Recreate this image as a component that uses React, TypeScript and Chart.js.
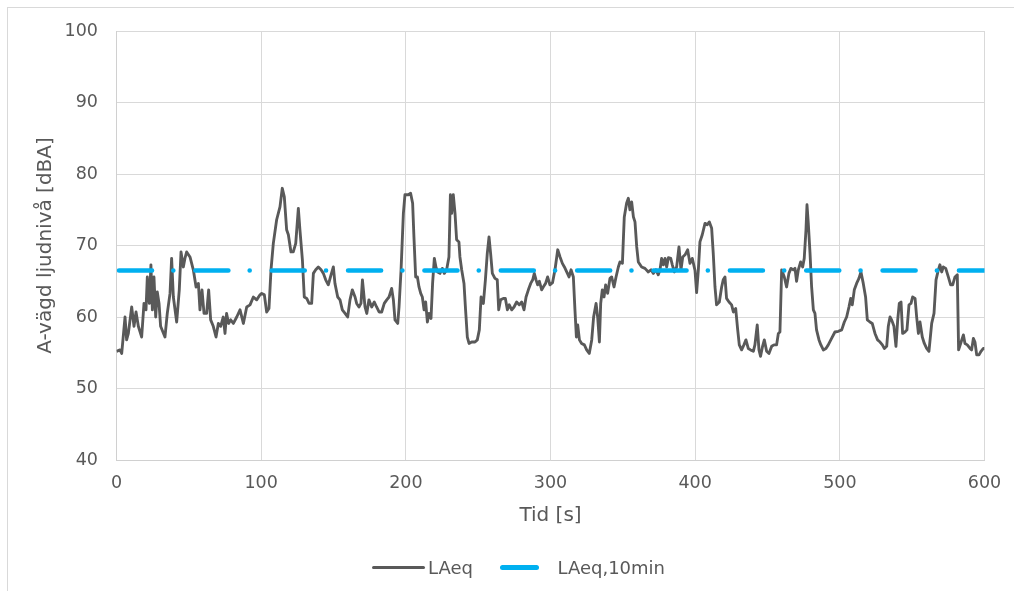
import React, { useEffect, useRef } from "react";
import { Chart, registerables } from "chart.js";

Chart.register(...registerables);

// ---- data: [time (s), LAeq (dBA)] ----
const laeq0to100: [number, number][] = [
  [0, 55.2], [2.4, 55.4], [3.6, 54.9], [5.9, 60.0], [7, 56.8], [8.2, 57.7], [10.5, 61.4], [12.1, 58.7],
  [13.5, 60.7], [15.1, 58.7], [17.4, 57.2], [19, 61.9], [20.4, 61.0], [21.3, 65.6], [22.7, 61.9], [23.8, 67.3],
  [24.8, 61.0], [25.9, 65.6], [27.1, 60.0], [28.2, 63.5], [29.4, 61.9], [30.5, 58.7], [33.5, 57.2], [35.1, 60.5],
  [37, 63.3], [38.1, 68.2], [39.3, 62.8], [41.6, 59.3], [43.4, 63.8], [44.6, 69.1], [46.2, 67.0], [47.3, 68.2],
  [48.5, 69.1], [50.8, 68.4], [53.1, 66.6], [55, 64.2], [56.6, 64.7], [57.7, 61.0], [59.1, 63.8], [60.5, 60.5],
  [62.3, 60.5], [63.7, 63.8], [65.1, 59.6], [66.9, 58.7], [68.8, 57.2], [70.4, 59.1], [72, 58.7], [73.8, 60.0],
  [75, 57.7], [76.1, 60.5], [77.5, 59.1], [78.9, 59.6], [80.8, 59.1], [83.1, 60.0], [85.4, 61.0], [87.7, 59.1],
  [90, 61.4], [92.3, 61.7], [94.6, 62.8], [96.9, 62.4], [99.2, 63.1],
];
const laeq100to200: [number, number][] = [
  [100.4, 63.3], [102.2, 63.1], [103.8, 60.7], [105.4, 61.2], [106.8, 66.6], [108.4, 70.3], [110.7, 73.6],
  [113, 75.4], [114.6, 78.0], [116, 76.8], [117.6, 72.2], [118.8, 71.5], [120.6, 69.1], [122.2, 69.1],
  [123.9, 70.3], [125.7, 75.2], [126.8, 72.2], [128.5, 68.0], [129.8, 62.8], [131.5, 62.6], [133.1, 61.9],
  [134.9, 61.9], [136.1, 66.1], [137.7, 66.6], [139.5, 67.0], [141.4, 66.6], [143, 66.1], [144.6, 65.2],
  [146.4, 64.5], [148.3, 65.9], [149.9, 67.0], [151, 64.7], [152.9, 62.8], [154.5, 62.4], [156.1, 61.0],
  [158, 60.5], [159.8, 60.0], [161.4, 62.4], [163, 63.8], [164.9, 62.8], [166, 61.9], [167.6, 61.4],
  [169, 61.9], [170, 65.2], [171.8, 61.4], [173, 60.5], [174.5, 62.4], [176.4, 61.4], [178.2, 62.1],
  [179.8, 61.4], [181.5, 60.7], [183.3, 60.7], [185.1, 61.9], [186.8, 62.4], [188.4, 62.8], [190.2, 64.0],
  [191.4, 62.4], [192.5, 59.6], [194.4, 59.1], [195.3, 61.4], [196.7, 66.6], [198.3, 74.5], [199.4, 77.1],
];
const laeq200to300: [number, number][] = [
  [201.7, 77.1], [203.3, 77.3], [204.7, 75.9], [205.6, 71.2], [206.8, 65.6], [208, 65.6], [209.1, 64.2],
  [210.3, 63.3], [211.4, 62.8], [212.6, 61.0], [213.7, 62.1], [214.9, 59.3], [216, 60.5], [217.4, 59.8],
  [218.5, 64.7], [219.7, 68.2], [220.8, 67.0], [222, 66.3], [223.6, 66.1], [225.2, 66.8], [226.6, 66.1],
  [228.2, 66.6], [229.8, 68.4], [230.8, 77.1], [231.7, 74.5], [232.8, 77.1], [234, 74.5], [235.1, 70.8],
  [236.7, 70.5], [237.4, 68.4], [238.6, 66.6], [240.2, 64.7], [241.3, 61.0], [242.5, 57.2], [243.7, 56.3],
  [245.5, 56.5], [247.8, 56.5], [249.4, 56.8], [250.8, 58.2], [252, 62.8], [253.6, 61.9], [255, 65.2],
  [256.3, 68.9], [257.5, 71.2], [258.6, 68.9], [259.8, 66.1], [261.6, 65.4], [263.2, 65.2], [264.2, 61.0],
  [265.5, 62.4], [267.4, 62.6], [268.8, 62.6], [270.2, 61.0], [271.5, 61.7], [273.2, 61.0], [274.8, 61.4],
  [276.6, 62.1], [278.4, 61.7], [280.1, 62.1], [281.7, 61.0], [283.1, 62.8], [284.7, 63.8], [286.3, 64.7],
  [287.7, 65.2], [288.8, 66.1], [290, 65.2], [291.1, 64.5], [292.3, 65.0], [293.9, 63.8], [295, 64.2],
  [296.6, 64.7], [298, 65.6], [299.6, 64.5],
];
const laeq300to400: [number, number][] = [
  [301.4, 64.8], [303.1, 66.6], [305, 69.4], [306.6, 68.4], [308.2, 67.5], [309.6, 67.0], [311.2, 66.3],
  [312.8, 65.6], [314.2, 66.6], [315.8, 65.6], [316.9, 61.0], [317.9, 57.2], [318.8, 58.9], [320, 56.8],
  [321.5, 56.3], [323.4, 56.1], [325, 55.4], [326.8, 54.9], [328.5, 56.8], [329.8, 60.0], [331.5, 61.9],
  [332.6, 60.0], [333.8, 56.5], [334.7, 61.9], [335.8, 63.8], [337, 62.8], [338.1, 64.5], [339.5, 63.3],
  [341.1, 65.4], [342.3, 65.6], [343.9, 64.2], [345.3, 65.6], [346.9, 67.0], [348, 67.7], [349.7, 67.5],
  [351, 74.0], [352.6, 75.9], [353.8, 76.6], [354.9, 75.0], [356.1, 76.1], [357.3, 74.0], [358.4, 73.3],
  [359.6, 69.8], [360.7, 67.7], [363, 67.0], [365.3, 66.8], [367.6, 66.3], [369.5, 66.6], [371.1, 66.1],
  [372.9, 66.6], [374.5, 65.9], [375.7, 66.6], [376.8, 68.2], [378, 67.3], [379.2, 68.2], [380.3, 67.0],
  [381.5, 68.3], [383.1, 68.2], [384.2, 67.3], [385.6, 66.3], [387.2, 67.0], [388.8, 69.8], [390.2, 66.6],
  [391.4, 68.4], [393, 68.7], [394.8, 69.4], [396.4, 67.5], [398, 68.2],
];
const laeq400to500: [number, number][] = [
  [399.9, 66.5], [401, 63.4], [402.2, 66.6], [403.3, 70.5], [404.9, 71.5], [406.8, 73.1], [408.4, 72.9],
  [409.8, 73.3], [411.4, 72.4], [412.5, 68.9], [413.7, 64.2], [414.8, 61.7], [416.7, 62.1], [418.3, 64.2],
  [419.4, 65.2], [420.6, 65.6], [421.7, 62.6], [423.4, 62.1], [425.2, 61.7], [426.4, 60.7], [428, 61.2],
  [429.4, 58.2], [430.5, 56.1], [432.1, 55.4], [433.7, 56.1], [435.1, 56.8], [436.7, 55.6], [438.3, 55.4],
  [440.2, 55.2], [441.3, 56.1], [442.9, 58.9], [444.1, 55.4], [445.2, 54.5], [446.6, 55.9], [447.8, 56.8],
  [449.4, 55.2], [451, 54.9], [452.9, 55.9], [454.5, 56.1], [456.3, 56.1], [457.5, 57.7], [458.6, 57.9],
  [459.8, 66.6], [461.6, 65.6], [463.2, 64.2], [464.8, 66.1], [466.2, 66.8], [467.8, 66.6], [469, 66.8],
  [470.1, 65.0], [471.3, 66.6], [472.9, 67.7], [474.3, 67.0], [475.4, 68.2], [476.6, 72.2], [477.3, 75.7],
  [478.2, 73.1], [479.4, 68.9], [480.5, 64.2], [481.7, 61.0], [482.8, 60.5], [483.9, 58.2], [485.6, 56.8],
  [486.9, 56.1], [488.6, 55.4], [490.4, 55.6], [492, 56.1], [494.3, 57.0], [496.6, 57.9],
];
const laeq500to600: [number, number][] = [
  [499, 58.0], [501.3, 58.2], [503.1, 59.3], [504.7, 60.0], [506.3, 61.4], [507.5, 62.6], [508.6, 61.7],
  [510, 63.8], [511.6, 64.7], [513.2, 65.4], [514.6, 66.3], [516.2, 64.7], [517.8, 62.8], [519, 59.6],
  [520.8, 59.3], [522.4, 59.1], [524.3, 57.7], [526.1, 56.8], [527.8, 56.5], [529.4, 56.1], [530.8, 55.6],
  [532.4, 55.9], [533.5, 58.7], [534.7, 60.0], [535.8, 59.6], [537.4, 58.7], [538.8, 55.9], [540, 59.6],
  [541.1, 61.9], [542.3, 62.1], [543.4, 57.7], [545, 57.9], [546.4, 58.2], [547.8, 61.7], [549.2, 61.9],
  [550.3, 62.8], [552, 62.6], [553.1, 60.0], [554.3, 57.7], [555.4, 59.3], [557, 57.2], [558.4, 56.3],
  [560, 55.6], [561.6, 55.2], [563.5, 59.1], [565.1, 60.5], [566.5, 65.2], [568.1, 66.6], [569.2, 67.3],
  [570.4, 66.3], [571.5, 67.0], [573.2, 66.8], [575, 65.6], [576.6, 64.5], [578, 64.5], [579.6, 65.6],
  [581.2, 65.9], [582.1, 55.4], [583.5, 56.3], [585.4, 57.5], [586.5, 56.3], [588.1, 56.1], [590, 55.6],
  [591.1, 55.4], [592.3, 57.0], [593.4, 56.5], [594.6, 54.7], [596.2, 54.7], [597.6, 55.2], [599.2, 55.6],
  [600, 55.6],
];

const laeq10minTimes = [0, 600];
const laeq10minDb = [66.5, 66.5];

const xTickValues = [0, 100, 200, 300, 400, 500, 600];
const yTickValues = [40, 50, 60, 70, 80, 90, 100];

const seriesNames = ["LAeq", "LAeq,10min"];
const axisTitles = { x: "Tid [s]", y: "A-vägd ljudnivå [dBA]" };

const FONT = "'DejaVu Sans', Verdana, sans-serif";
const TEXT = "#595959";
const GRID = "#d9d9d9";
const GREY_LINE = "#595959";
const BLUE = "#00B0F0";

const zeroPadding = (s: any) => {
  s.paddingLeft = 0;
  s.paddingRight = 0;
  s.paddingTop = 0;
  s.paddingBottom = 0;
};

export default function App() {
  const ref = useRef<HTMLCanvasElement>(null);

  useEffect(() => {
    const laeqPoints = [
      ...laeq0to100,
      ...laeq100to200,
      ...laeq200to300,
      ...laeq300to400,
      ...laeq400to500,
      ...laeq500to600,
    ].map(([x, y]) => ({ x, y }));
    const tenMinPoints = laeq10minTimes.map((x, i) => ({ x, y: laeq10minDb[i] }));

    const chart = new Chart(ref.current!, {
      type: "line",
      data: {
        datasets: [
          {
            label: seriesNames[0],
            data: laeqPoints,
            borderColor: GREY_LINE,
            borderWidth: 2.85,
            borderJoinStyle: "round",
            pointRadius: 0,
            tension: 0,
            order: 1,
          },
          {
            label: seriesNames[1],
            data: tenMinPoints,
            borderColor: BLUE,
            borderWidth: 4.6,
            borderCapStyle: "round",
            borderDash: [33, 21.3, 0.01, 22.05],
            borderDashOffset: 73.85,
            pointRadius: 0,
            order: 0,
          },
        ],
      },
      options: {
        animation: false,
        responsive: false,
        maintainAspectRatio: false,
        layout: { padding: { left: 0, right: 21.5, top: 22, bottom: 53 } },
        plugins: {
          legend: { display: false },
          tooltip: { enabled: false },
        },
        scales: {
          x: {
            type: "linear",
            min: 0,
            max: 600,
            afterFit: (s: any) => {
              s.height = 70;
              zeroPadding(s);
            },
            afterBuildTicks: (s: any) => {
              s.ticks = xTickValues.map((value) => ({ value }));
            },
            grid: { color: GRID, lineWidth: 1, drawTicks: false },
            border: { color: "#d0d0d0", width: 1 },
            ticks: { padding: 12.5, color: TEXT, font: { family: FONT, size: 17.5 }, maxRotation: 0 },
            title: {
              display: true,
              text: axisTitles.x,
              color: TEXT,
              font: { family: FONT, size: 20 },
              padding: { top: 0, bottom: 2 },
            },
          },
          y: {
            type: "linear",
            min: 40,
            max: 100,
            afterFit: (s: any) => {
              s.width = 107.5;
              zeroPadding(s);
            },
            afterBuildTicks: (s: any) => {
              s.ticks = yTickValues.map((value) => ({ value }));
            },
            grid: { color: GRID, lineWidth: 1, drawTicks: false },
            border: { color: "#d0d0d0", width: 1 },
            ticks: { padding: 18.5, color: TEXT, font: { family: FONT, size: 17.5 } },
            title: {
              display: true,
              text: axisTitles.y,
              color: TEXT,
              font: { family: FONT, size: 20 },
              padding: { top: 25, bottom: 0 },
            },
          },
        },
      },
    });
    return () => chart.destroy();
  }, []);

  const legendText: React.CSSProperties = {
    position: "absolute",
    font: `18px ${FONT}`,
    lineHeight: "22px",
    color: TEXT,
    whiteSpace: "nowrap",
  };

  return (
    <div style={{ position: "relative", width: 998, height: 575 }}>
      {/* outer chart frame: runs off the right and bottom edges like the reference */}
      <div
        style={{
          position: "fixed",
          left: 7,
          top: 7,
          width: 1007,
          height: 584,
          boxSizing: "border-box",
          borderTop: `1px solid ${GRID}`,
          borderLeft: `1px solid ${GRID}`,
          pointerEvents: "none",
        }}
      />
      <div style={{ position: "absolute", left: 1, top: 1, width: 997, height: 574 }}>
        <canvas ref={ref} width={997} height={574} style={{ display: "block", width: 997, height: 574 }} />
        <div
          style={{
            position: "absolute",
            left: 362.7,
            top: 557,
            width: 53.3,
            height: 3.3,
            background: GREY_LINE,
            borderRadius: 2,
          }}
        />
        <span style={{ ...legendText, left: 419, top: 548 }}>{seriesNames[0]}</span>
        <div
          style={{
            position: "absolute",
            left: 491,
            top: 556.4,
            width: 39.3,
            height: 4.7,
            background: BLUE,
            borderRadius: 2.5,
          }}
        />
        <span style={{ ...legendText, left: 548.5, top: 548 }}>{seriesNames[1]}</span>
      </div>
    </div>
  );
}
